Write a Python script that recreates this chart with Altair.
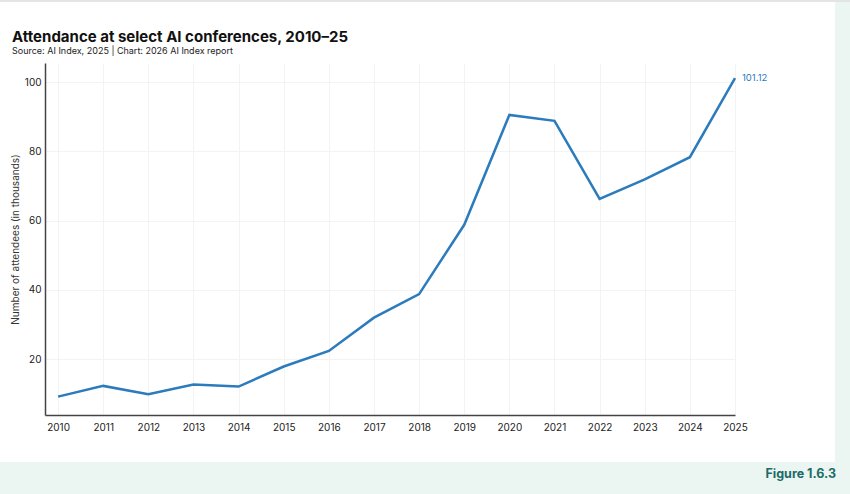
import altair as alt
import pandas as pd

years = list(range(2010, 2026))
attendees = [9.2, 12.3, 9.9, 12.7, 12.1, 17.9, 22.4, 32.0, 38.8, 58.8, 90.5, 88.8, 66.3, 71.9, 78.3, 101.12]
last_label = ["101.12"]
title_text = "Attendance at select AI conferences, 2010–25"
subtitle_text = "Source: AI Index, 2025 | Chart: 2026 AI Index report"
figure_text = "Figure 1.6.3"

df = pd.DataFrame({"year": years, "value": attendees})
df_last = pd.DataFrame({"year": [years[-1]], "value": [attendees[-1]], "label": last_label})
one = pd.DataFrame({"k": [0]})

FONT = "Inter"
BLUE = "#2b7bbd"
GREEN = "#ebf5f1"

xscale = alt.Scale(domain=[2009.71, 2025], nice=False, zero=False)
yscale = alt.Scale(domain=[3.9, 105.5], nice=False, zero=False)

right_strip = alt.Chart(one).mark_rect(color=GREEN, clip=False).encode(
    x=alt.value(790), x2=alt.value(806), y=alt.value(-63), y2=alt.value(432)
)
bottom_strip = alt.Chart(one).mark_rect(color=GREEN, clip=False).encode(
    x=alt.value(-46), x2=alt.value(806), y=alt.value(399), y2=alt.value(432)
)
topline = alt.Chart(one).mark_rule(color="#e4e4e4", strokeWidth=2, clip=False).encode(
    x=alt.value(-46), x2=alt.value(806), y=alt.value(-62)
)
title = alt.Chart(one).mark_text(
    text=title_text, font=FONT, fontSize=15, fontWeight="bold", color="#111",
    align="left", baseline="alphabetic"
).encode(x=alt.value(-33), y=alt.value(-21))
subtitle = alt.Chart(one).mark_text(
    text=subtitle_text, font=FONT, fontSize=9, color="#222",
    align="left", baseline="alphabetic"
).encode(x=alt.value(-33), y=alt.value(-9))
fig_label = alt.Chart(one).mark_text(
    text=figure_text, font=FONT, fontSize=12.5, fontWeight="bold",
    color="#1d6b66", align="right", baseline="alphabetic"
).encode(x=alt.value(791), y=alt.value(415))

line = alt.Chart(df).mark_line(color=BLUE, strokeWidth=2.5).encode(
    x=alt.X("year:Q", scale=xscale,
            axis=alt.Axis(values=years, format="d", title=None, grid=True,
                          ticks=False, labelPadding=7, labelFontSize=10,
                          labelFont=FONT, labelColor="#222", labelFlush=False,
                          labelOverlap=False, labelBound=False,
                          domainColor="#444", domainWidth=1.5, gridColor="#f3f3f3")),
    y=alt.Y("value:Q", scale=yscale,
            axis=alt.Axis(values=[20, 40, 60, 80, 100], title="Number of attendees (in thousands)",
                          grid=True, ticks=False, labelPadding=4, labelFontSize=10,
                          labelFont=FONT, labelColor="#222", titleFont=FONT,
                          titleFontSize=10, titleFontWeight="normal", titleColor="#333",
                          titlePadding=4, domainColor="#444", domainWidth=1.5,
                          gridColor="#f3f3f3")),
)
label = alt.Chart(df_last).mark_text(
    align="left", dx=7, dy=0, fontSize=9.5, font=FONT, color=BLUE, baseline="middle"
).encode(x=alt.X("year:Q", scale=xscale), y=alt.Y("value:Q", scale=yscale), text="label:N")

chart = alt.layer(right_strip, bottom_strip, topline, line, label, title, subtitle, fig_label).properties(
    width=690, height=352,
    background="white",
    padding={"left": 45, "top": 63, "right": 115, "bottom": 79},
    autosize=alt.AutoSizeParams(type="none"),
).configure_view(stroke=None)

chart.save("out.html", embed_options={"renderer": "svg", "actions": False})
